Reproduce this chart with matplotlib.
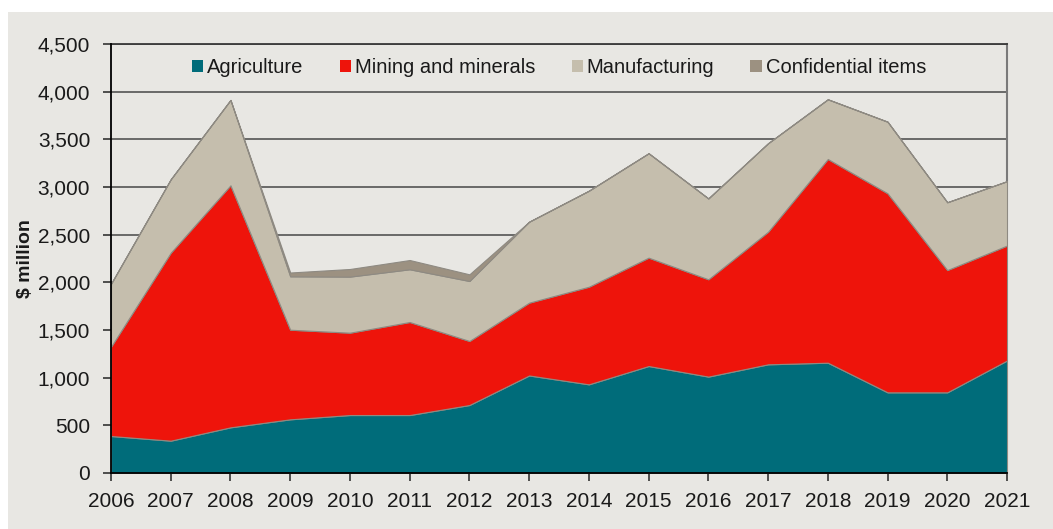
import matplotlib
matplotlib.use("Agg")
import matplotlib.pyplot as plt
from matplotlib.patches import Rectangle, Patch

years = list(range(2006, 2022))
agriculture = [388, 339, 479, 563, 608, 608, 713, 1023, 930, 1122, 1011, 1140, 1157, 846, 846, 1180]
mining = [937, 1972, 2539, 940, 864, 976, 672, 764, 1024, 1137, 1021, 1391, 2137, 2088, 1283, 1206]
manufacturing = [660, 770, 895, 560, 588, 553, 629, 849, 1007, 1095, 848, 928, 626, 751, 711, 675]
confidential = [0, 0, 0, 40, 80, 97, 70, 0, 0, 0, 0, 0, 0, 0, 0, 0]
series_names = ["Agriculture", "Mining and minerals", "Manufacturing", "Confidential items"]
colors = ["#006c7a", "#ee140b", "#c5bead", "#9c9181"]
yticks = [0, 500, 1000, 1500, 2000, 2500, 3000, 3500, 4000, 4500]

plt.rcParams['font.family'] = ['Liberation Sans', 'DejaVu Sans']
W, H = 1053, 529
fig = plt.figure(figsize=(W / 100, H / 100), dpi=100, facecolor="white")
bg = "#e8e7e3"
fig.patches.append(Rectangle((8 / W, 0), 1 - 8 / W, (H - 12) / H, transform=fig.transFigure,
                             facecolor=bg, edgecolor="none", zorder=-10))

ax = fig.add_axes([111 / W, (H - 473) / H, (1007 - 111) / W, (473 - 44) / H])
ax.set_zorder(2)
ax.set_facecolor(bg)

ax.stackplot(years, agriculture, mining, manufacturing, confidential, colors=colors,
             edgecolor="#8e8a82", linewidth=0.8, zorder=3)

ax.set_xlim(2006, 2021)
ax.set_ylim(0, 4500)
ax.set_yticks(yticks)
ax.set_yticklabels([f"{v:,}" for v in yticks])
ax.set_xticks(years)
ax.set_xticklabels([str(y) for y in years])
ax.grid(axis="y", color="#5f5f5f", linewidth=1.3, zorder=1)
ax.set_axisbelow(True)

for s in ["left", "bottom"]:
    ax.spines[s].set_color("black")
    ax.spines[s].set_linewidth(1.3)
    ax.spines[s].set_zorder(5)
ax.spines["top"].set_color("#3a3a3a")
ax.spines["top"].set_linewidth(1.3)
ax.spines["right"].set_color("#7a7a7a")
ax.spines["right"].set_linewidth(1.5)

ax.tick_params(axis="both", direction="out", length=6, width=1.2, color="#333333",
               labelsize=15, labelcolor="#1a1a1a")
ax.tick_params(axis="y", pad=9)
ax.tick_params(axis="x", pad=8)

fig.text(25 / W, (H - 259) / H, "$ million", rotation=90, ha="center", va="center",
         fontsize=14, fontweight="bold", color="#1a1a1a")

handles = [Patch(facecolor=c, edgecolor="none") for c in colors]
leg = ax.legend(handles, series_names, loc="center", bbox_to_anchor=(0.5, (473 - 67.5) / 429),
                ncol=4, frameon=False, fontsize=14.5, handlelength=0.55, handleheight=0.6,
                handletextpad=0.2, columnspacing=1.8, borderaxespad=0.0, borderpad=0.0)
for t in leg.get_texts():
    t.set_color("#1a1a1a")

fig.savefig("out.png", dpi=100, facecolor="white")
